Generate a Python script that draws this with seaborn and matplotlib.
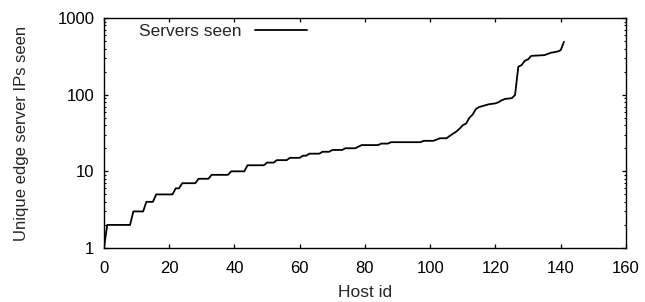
import numpy as np
import pandas as pd
import matplotlib
matplotlib.use("Agg")
import matplotlib.pyplot as plt
import seaborn as sns
from matplotlib.ticker import LogLocator, FixedLocator, FixedFormatter, NullFormatter

# unique edge server IPs seen per host, sorted (host id 0..141)
servers_seen = (
    [1]
    + [2] * 8
    + [3] * 4
    + [4] * 3
    + [5] * 6
    + [6] * 2
    + [7] * 5
    + [8] * 4
    + [9] * 6
    + [10] * 5
    + [12] * 6
    + [13] * 3
    + [14] * 4
    + [15] * 4
    + [16] * 2
    + [17] * 4
    + [18] * 3
    + [19] * 4
    + [20] * 4
    + [21]
    + [22] * 6
    + [23] * 3
    + [24] * 10
    + [25] * 4
    + [26]
    + [27] * 3
    + [29, 31, 33, 36, 40, 42, 50, 55, 65, 69, 71, 73, 75, 76, 77, 80,
       85, 88, 89, 90, 99, 231, 243, 277, 289, 321, 322, 324, 326, 328,
       340, 352, 358, 365, 381, 490]
)
host_id = list(range(len(servers_seen)))

x_ticks = [0, 20, 40, 60, 80, 100, 120, 140, 160]
y_ticks = [1, 10, 100, 1000]
y_tick_labels = ["1", "10", "100", "1000"]

df = pd.DataFrame({"Host id": host_id, "Servers seen": servers_seen})

sns.set_style("ticks")
plt.rcParams["font.family"] = ["Liberation Sans", "DejaVu Sans"]
plt.rcParams["font.size"] = 12

fig = plt.figure(figsize=(6.45, 3.02), dpi=100)
ax = fig.add_axes([0.1612, 0.1788, 0.9705 - 0.1612, 0.9404 - 0.1788])

sns.lineplot(data=df, x="Host id", y="Servers seen", color="black",
             linewidth=1.3, label="Servers seen", ax=ax)

ax.set_yscale("log")
ax.set_xlim(0, 160)
ax.set_ylim(1, 1000)
ax.xaxis.set_major_locator(FixedLocator(x_ticks))
ax.yaxis.set_major_locator(FixedLocator(y_ticks))
ax.yaxis.set_major_formatter(FixedFormatter(y_tick_labels))
ax.yaxis.set_minor_locator(LogLocator(base=10, subs=np.arange(2, 10), numticks=20))
ax.yaxis.set_minor_formatter(NullFormatter())

ax.tick_params(which="both", direction="in", top=True, right=True,
               labelsize=12, colors="black")
ax.tick_params(axis="x", pad=9)
ax.tick_params(axis="y", pad=7)
ax.tick_params(which="major", length=3, width=0.9)
ax.tick_params(which="minor", length=1.6, width=0.8)
for s in ax.spines.values():
    s.set_color("black")
    s.set_linewidth(1.0)

ax.set_xlabel("Host id", fontsize=12.5, labelpad=7)
ax.set_ylabel("Unique edge server IPs seen", fontsize=12, labelpad=20)

ax.legend(loc="center left", bbox_to_anchor=(0.067, 0.943), frameon=False,
          markerfirst=False, handlelength=3.0, handletextpad=0.8,
          borderpad=0, borderaxespad=0, fontsize=12.5)

fig.savefig("out.png", dpi=100)
